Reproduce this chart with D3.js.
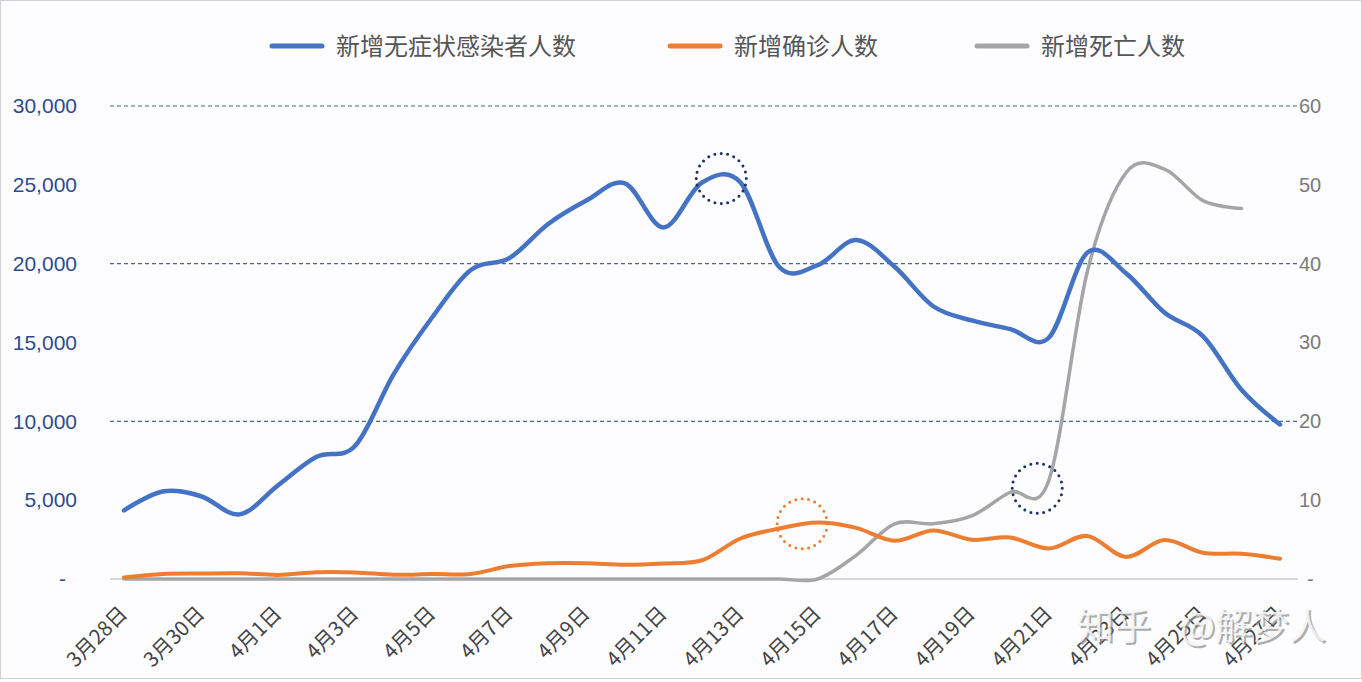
<!DOCTYPE html>
<html>
<head>
<meta charset="utf-8">
<script src="https://cdn.jsdelivr.net/npm/d3@7/dist/d3.min.js"></script>
<style>
  body { margin: 0; background: #fff; }
  svg { display: block; font-family: "Open Sans", "Noto Sans CJK SC", sans-serif; }
</style>
</head>
<body>
<div class="chart"></div>
<script>
// dates 3/28 - 4/27
const dates = ["3月28日","3月29日","3月30日","3月31日","4月1日","4月2日","4月3日","4月4日","4月5日","4月6日",
  "4月7日","4月8日","4月9日","4月10日","4月11日","4月12日","4月13日","4月14日","4月15日","4月16日",
  "4月17日","4月18日","4月19日","4月20日","4月21日","4月22日","4月23日","4月24日","4月25日","4月26日","4月27日"]

const asymptomatic = [4350, 5550, 5250, 4100, 5950, 7750, 8450, 13000, 16600, 19600,
  20350, 22500, 24000, 25100, 22300, 25150, 25150, 19800, 19900, 21500,
  19800, 17300, 16400, 15850, 15300, 20700, 19400, 16900, 15400, 12000, 9800]

const confirmed = [100, 320, 350, 360, 260, 430, 420, 270, 310, 320,
  820, 1000, 1000, 910, 990, 1190, 2570, 3200, 3580, 3240,
  2420, 3080, 2490, 2630, 1930, 2730, 1400, 2470, 1660, 1600, 1290]

// deaths, right axis (no value for last day)
const deaths = [0,0,0,0,0,0,0,0,0,0,
  0,0,0,0,0,0,0,0,0,3,
  7,7,8,11,12.5,39,51.5,52,48,47]

const leftTicks = [0, 5000, 10000, 15000, 20000, 25000, 30000]
const rightTicks = [0, 10, 20, 30, 40, 50, 60]
const gridTicks = [20, 40, 60]
const dateTicks = dates.filter((d, i) => i % 2 === 0)

const seriesNames = ["新增无症状感染者人数", "新增确诊人数", "新增死亡人数"]
const colors = ["#4472C4", "#ED7D31", "#A5A5A5"]

// highlighted spots: [position on the date index, value, axis, colour]
const marks = [
  {i: 15.5, v: 25400, axis: "left", color: "#1f3160"},
  {i: 17.6, v: 3500, axis: "left", color: "#ED7D31"},
  {i: 23.7, v: 11.5, axis: "right", color: "#1f3160"}
]

const W = 1362, H = 682

const svg = d3.select(".chart").append("svg")
  .attr("width", W)
  .attr("height", H)

svg.append("rect")
  .attr("x", 0.5).attr("y", 0.5)
  .attr("width", W - 1).attr("height", H - 4)
  .attr("fill", "#fdfdff")
  .attr("stroke", "#cfd0d8")

let xScale = d3.scalePoint().domain(dates).range([124, 1280])
let yLeft = d3.scaleLinear().domain([0, 30000]).range([579, 106])
let yRight = d3.scaleLinear().domain([0, 60]).range([579, 106])
const xIdx = d3.scaleLinear().domain([0, dates.length - 1]).range([124, 1280])

// grid
svg.append("g")
  .selectAll("line")
  .data(gridTicks)
  .enter().append("line")
  .attr("x1", 110).attr("x2", 1298)
  .attr("y1", d => yRight(d)).attr("y2", d => yRight(d))
  .attr("stroke", "#46678f")
  .attr("stroke-width", 1.2)
  .attr("stroke-dasharray", "4,3")

svg.append("line")
  .attr("x1", 110).attr("x2", 1298)
  .attr("y1", yLeft(0)).attr("y2", yLeft(0))
  .attr("stroke", "#c8c8c8")
  .attr("stroke-width", 1.5)

const fmt = d3.format(",")

let yAxisL = d3.axisLeft(yLeft).tickValues(leftTicks)
  .tickFormat(d => d === 0 ? "-" : fmt(d))
  .tickSize(0).tickPadding(0)

svg.append("g")
  .attr("class", "axis y-left")
  .attr("transform", "translate(77,0)")
  .call(yAxisL)
  .call(g => g.select(".domain").remove())
  .call(g => g.selectAll("text")
    .attr("font-size", 21)
    .attr("fill", "#304a8c")
    .attr("dx", d => d === 0 ? -11 : 0))

let yAxisR = d3.axisRight(yRight).tickValues(rightTicks)
  .tickFormat(d => d === 0 ? "-" : d)
  .tickSize(0).tickPadding(0)

svg.append("g")
  .attr("class", "axis y-right")
  .attr("transform", "translate(1299,0)")
  .call(yAxisR)
  .call(g => g.select(".domain").remove())
  .call(g => g.selectAll("text")
    .attr("font-size", 20)
    .attr("fill", "#7a7a7a")
    .attr("dx", d => d === 0 ? 8 : 0))

let xAxis = d3.axisBottom(xScale).tickValues(dateTicks).tickSize(0)

svg.append("g")
  .attr("class", "axis x-axis")
  .attr("transform", `translate(0,${yLeft(0)})`)
  .call(xAxis)
  .call(g => g.select(".domain").remove())
  .call(g => g.selectAll("text")
    .attr("font-size", 20.5)
    .attr("fill", "#444")
    .attr("font-family", "'Noto Sans CJK SC', sans-serif")
    .attr("text-anchor", "end")
    .attr("x", 0).attr("y", 0).attr("dy", "0.35em")
    .attr("transform", "translate(-1,31) rotate(-45)"))

// lines
const lineL = d3.line()
  .x((d, i) => xScale(dates[i]))
  .y(d => yLeft(d))
  .curve(d3.curveCardinal.tension(0))

const lineR = d3.line()
  .x((d, i) => xScale(dates[i]))
  .y(d => yRight(d))
  .curve(d3.curveCardinal.tension(0))

svg.append("path")
  .datum(deaths)
  .attr("d", lineR)
  .attr("fill", "none")
  .attr("stroke", colors[2])
  .attr("stroke-width", 3.5)
  .attr("stroke-linecap", "round")

svg.append("path")
  .datum(confirmed)
  .attr("d", lineL)
  .attr("fill", "none")
  .attr("stroke", colors[1])
  .attr("stroke-width", 4)
  .attr("stroke-linecap", "round")

svg.append("path")
  .datum(asymptomatic)
  .attr("d", lineL)
  .attr("fill", "none")
  .attr("stroke", colors[0])
  .attr("stroke-width", 4.5)
  .attr("stroke-linecap", "round")

// dotted circles
svg.append("g")
  .selectAll("circle")
  .data(marks)
  .enter().append("circle")
  .attr("cx", d => xIdx(d.i))
  .attr("cy", d => d.axis === "left" ? yLeft(d.v) : yRight(d.v))
  .attr("r", 25)
  .attr("fill", "none")
  .attr("stroke", d => d.color)
  .attr("stroke-width", 3)
  .attr("stroke-linecap", "round")
  .attr("stroke-dasharray", "0,6.5")

// legend
const legendX = [270, 668, 975]
const legend = svg.append("g")
  .selectAll("g")
  .data(seriesNames)
  .enter().append("g")
  .attr("transform", (d, i) => `translate(${legendX[i]},46)`)

legend.append("line")
  .attr("x1", 2).attr("x2", 52)
  .attr("stroke", (d, i) => colors[i])
  .attr("stroke-width", 5)
  .attr("stroke-linecap", "round")

legend.append("text")
  .attr("x", 66)
  .attr("dy", "0.36em")
  .attr("font-size", 24)
  .attr("font-family", "'Noto Sans CJK SC', sans-serif")
  .attr("fill", "#555")
  .text(d => d)

// watermark
const wmParts = [{t: "知乎", x: 1077}, {t: "@解梦人", x: 1180}]
const wm = svg.append("g")
  .attr("font-size", 37)
  .attr("font-family", "'Noto Sans CJK SC', sans-serif")

wm.selectAll("text.sh")
  .data(wmParts)
  .enter().append("text")
  .attr("class", "sh")
  .attr("x", d => d.x + 2).attr("y", 642)
  .attr("fill", "#8a8a8a")
  .attr("fill-opacity", 0.7)
  .text(d => d.t)

wm.selectAll("text.fg")
  .data(wmParts)
  .enter().append("text")
  .attr("class", "fg")
  .attr("x", d => d.x).attr("y", 640)
  .attr("fill", "#f6f6f6")
  .attr("fill-opacity", 0.9)
  .text(d => d.t)
</script>
</body>
</html>
